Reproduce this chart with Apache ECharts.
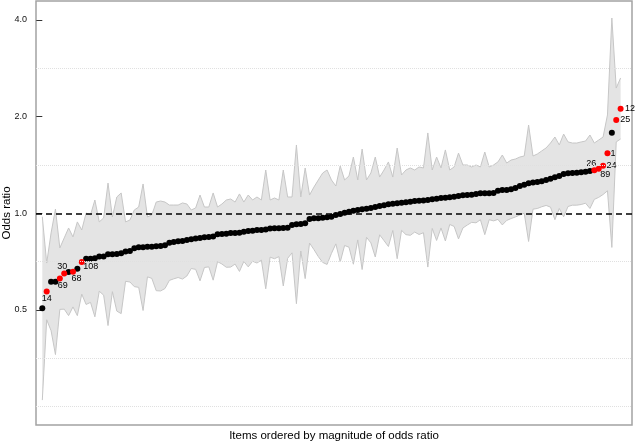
<!DOCTYPE html>
<html>
<head>
<meta charset="utf-8">
<title>Odds ratio by item</title>
<script src="https://cdn.jsdelivr.net/npm/echarts@6/dist/echarts.min.js"></script>
<style>
  html, body { margin: 0; padding: 0; background: #fff; }
  #chart { width: 638px; height: 442px; }
</style>
</head>
<body>
<div id="chart"></div>
<script>
// odds ratio of every item, sorted from smallest to largest
var oddsRatio = [
  0.506, 0.571, 0.612, 0.612, 0.626, 0.649, 0.657, 0.658, 0.672, 0.705,
  0.722, 0.722, 0.724, 0.733, 0.733, 0.745, 0.745, 0.747, 0.751, 0.760,
  0.763, 0.778, 0.784, 0.784, 0.786, 0.787, 0.789, 0.791, 0.795, 0.810,
  0.814, 0.818, 0.820, 0.826, 0.830, 0.834, 0.838, 0.842, 0.844, 0.846,
  0.860, 0.862, 0.864, 0.868, 0.868, 0.870, 0.876, 0.881, 0.883, 0.887,
  0.887, 0.891, 0.896, 0.898, 0.898, 0.900, 0.902, 0.920, 0.924, 0.926,
  0.931, 0.960, 0.965, 0.965, 0.969, 0.972, 0.976, 0.988, 0.995, 1.004,
  1.012, 1.019, 1.024, 1.029, 1.034, 1.039, 1.046, 1.054, 1.059, 1.067,
  1.071, 1.074, 1.079, 1.082, 1.087, 1.092, 1.094, 1.097, 1.100, 1.106,
  1.110, 1.116, 1.118, 1.122, 1.126, 1.132, 1.138, 1.140, 1.143, 1.149,
  1.154, 1.154, 1.154, 1.157, 1.176, 1.182, 1.182, 1.188, 1.199, 1.216,
  1.228, 1.240, 1.246, 1.252, 1.258, 1.270, 1.281, 1.294, 1.307, 1.326,
  1.332, 1.335, 1.338, 1.342, 1.348, 1.354, 1.361, 1.377, 1.406, 1.538,
  1.782, 1.952, 2.117
];
// lower and upper confidence limits, same order
var ciLower = [
  0.262, 0.466, 0.431, 0.363, 0.502, 0.503, 0.480, 0.511, 0.480, 0.560,
  0.520, 0.528, 0.476, 0.572, 0.556, 0.447, 0.570, 0.496, 0.487, 0.614,
  0.611, 0.591, 0.588, 0.498, 0.634, 0.627, 0.574, 0.573, 0.583, 0.618,
  0.625, 0.631, 0.624, 0.638, 0.673, 0.669, 0.616, 0.678, 0.681, 0.619,
  0.707, 0.695, 0.679, 0.680, 0.695, 0.659, 0.708, 0.681, 0.709, 0.700,
  0.715, 0.582, 0.730, 0.722, 0.733, 0.594, 0.724, 0.753, 0.523, 0.763,
  0.626, 0.808, 0.771, 0.733, 0.703, 0.693, 0.750, 0.803, 0.705, 0.794,
  0.784, 0.694, 0.826, 0.668, 0.842, 0.809, 0.731, 0.857, 0.822, 0.788,
  0.884, 0.722, 0.885, 0.858, 0.854, 0.874, 0.859, 0.870, 0.680, 0.897,
  0.823, 0.900, 0.820, 0.923, 0.910, 0.832, 0.900, 0.919, 0.937, 0.934,
  0.955, 0.858, 0.955, 0.947, 0.957, 0.920, 0.950, 0.963, 0.974, 0.988,
  1.000, 0.817, 1.030, 1.035, 1.048, 1.058, 1.045, 0.955, 1.035, 0.975,
  1.050, 1.060, 1.060, 1.065, 1.075, 1.035, 1.105, 1.121, 1.144, 1.175,
  0.783, 1.668, 1.704
];
var ciUpper = [
  0.976, 0.700, 0.868, 1.031, 0.780, 0.838, 0.900, 0.844, 0.940, 0.887,
  1.002, 0.988, 1.100, 0.940, 0.967, 1.242, 0.974, 1.124, 1.157, 0.940,
  0.953, 1.024, 1.046, 1.234, 0.974, 0.988, 1.084, 1.092, 1.084, 1.061,
  1.061, 1.061, 1.077, 1.069, 1.024, 1.039, 1.140, 1.046, 1.046, 1.157,
  1.046, 1.069, 1.100, 1.108, 1.084, 1.149, 1.084, 1.140, 1.100, 1.124,
  1.100, 1.364, 1.100, 1.116, 1.100, 1.364, 1.124, 1.124, 1.632, 1.124,
  1.384, 1.140, 1.207, 1.270, 1.335, 1.364, 1.270, 1.216, 1.404, 1.270,
  1.307, 1.497, 1.270, 1.585, 1.270, 1.335, 1.497, 1.297, 1.364, 1.445,
  1.297, 1.597, 1.316, 1.364, 1.384, 1.364, 1.394, 1.384, 1.779, 1.364,
  1.497, 1.384, 1.575, 1.364, 1.394, 1.540, 1.414, 1.414, 1.394, 1.414,
  1.394, 1.552, 1.394, 1.414, 1.445, 1.519, 1.434, 1.465, 1.476, 1.497,
  1.508, 1.883, 1.508, 1.530, 1.564, 1.598, 1.655, 1.728, 1.632, 1.765,
  1.668, 1.655, 1.655, 1.668, 1.679, 1.753, 1.655, 1.691, 1.728, 2.024,
  4.056, 2.455, 2.639
];
// items shown in red: position in the sorted order, and item id
var flaggedRank = [1, 4, 5, 7, 9, 126, 127, 128, 129, 131, 132];
var flaggedId = ['14', '69', '30', '68', '108', '26', '89', '24', '1', '25', '12'];

var yTicks = [0.5, 1, 2, 4];
var yTickLabels = ['0.5', '1.0', '2.0', '4.0'];
var minorGrid = [0.25, 0.354, 0.707, 1.414, 2.828];
var refLine = 1;

function log2(v) { return Math.log(v) / Math.LN2; }

// where each id label sits relative to its point, px
var labelNudge = {
  '14': [0, 7.5], '69': [3, 6.5], '30': [-2, -7], '68': [3.5, 6.5], '108': [9, 4.5],
  '26': [-3, -6.5], '89': [6.5, 6], '24': [8.5, 0], '1': [5.5, 0.5], '25': [9, 0], '12': [9.5, 0]
};

var isFlagged = {};
flaggedRank.forEach(function (r) { isFlagged[r] = true; });

var blackPts = [], redPts = [], bandRows = [];
for (var i = 0; i < oddsRatio.length; i++) {
  bandRows.push([i, log2(ciLower[i]), log2(ciUpper[i])]);
  if (!isFlagged[i]) blackPts.push([i, log2(oddsRatio[i])]);
}
flaggedRank.forEach(function (r, k) {
  var id = flaggedId[k];
  redPts.push({
    value: [r, log2(oddsRatio[r])],
    label: { show: true, position: 'inside', offset: labelNudge[id], formatter: id }
  });
});

var yTickPos = yTicks.map(log2);

// the grey confidence band, drawn once as one polygon
function renderBand(params, api) {
  if (params.dataIndex !== 0) return null;
  var top = [], bottom = [];
  bandRows.forEach(function (row) {
    top.push(api.coord([row[0], row[2]]));
    bottom.push(api.coord([row[0], row[1]]));
  });
  var outline = { stroke: '#c6c6c6', lineWidth: 1, fill: null };
  return {
    type: 'group',
    children: [
      { type: 'polygon', shape: { points: top.concat(bottom.slice().reverse()) }, style: { fill: '#e4e4e4' } },
      { type: 'polyline', shape: { points: top }, style: outline },
      { type: 'polyline', shape: { points: bottom }, style: outline }
    ]
  };
}

var myChart = echarts.init(document.getElementById('chart'));
var option = {
  animation: false,
  textStyle: { fontFamily: 'Liberation Sans, Arial, sans-serif' },
  grid: {
    left: 36, right: 6, top: 1, bottom: 17,
    show: true, borderColor: '#a3a3a3', borderWidth: 1.5, backgroundColor: 'transparent',
    containLabel: false, outerBoundsMode: 'none'
  },
  xAxis: {
    type: 'value', min: -1.44, max: 134.6,
    name: 'Items ordered by magnitude of odds ratio',
    nameLocation: 'middle', nameGap: 5, nameMoveOverlap: false,
    nameTextStyle: { fontSize: 11.5, color: '#000', verticalAlign: 'top' },
    axisLine: { show: false }, axisTick: { show: false },
    axisLabel: { show: false }, splitLine: { show: false }
  },
  yAxis: {
    type: 'value', min: -2.19, max: 2.196,
    name: 'Odds ratio', nameLocation: 'middle', nameGap: 23, nameMoveOverlap: false,
    nameTextStyle: { fontSize: 11.5, color: '#000' },
    axisLine: { show: false },
    axisTick: { show: true, length: 6, customValues: yTickPos, lineStyle: { color: '#333', width: 1 } },
    axisLabel: {
      customValues: yTickPos, margin: 9, fontSize: 9, color: '#111',
      formatter: function (v) {
        for (var k = 0; k < yTickPos.length; k++) {
          if (Math.abs(yTickPos[k] - v) < 1e-6) return yTickLabels[k];
        }
        return '';
      }
    },
    splitLine: { show: false }
  },
  series: [
    {
      // faint minor grid
      type: 'line', data: [], z: 1, silent: true,
      markLine: {
        silent: true, symbol: ['none', 'none'], label: { show: false },
        lineStyle: { color: '#e0e0e0', type: 'dotted', width: 1 },
        data: minorGrid.map(function (v) { return { yAxis: log2(v) }; })
      }
    },
    {
      type: 'custom', data: bandRows, renderItem: renderBand,
      encode: { x: 0, y: [1, 2] }, z: 1.5, silent: true
    },
    {
      type: 'line', data: [], z: 2.5, silent: true,
      markLine: {
        silent: true, symbol: ['none', 'none'], label: { show: false },
        lineStyle: { color: '#000', type: [6, 4], width: 1.5 },
        data: [{ yAxis: log2(refLine) }]
      }
    },
    {
      type: 'scatter', data: blackPts, symbolSize: 6, z: 3,
      itemStyle: { color: '#000', opacity: 1 }, emphasis: { disabled: true }
    },
    {
      type: 'scatter', data: redPts, symbolSize: 6, z: 4,
      itemStyle: { color: '#ff0000', opacity: 1 }, emphasis: { disabled: true },
      label: { fontSize: 9, color: '#000' }
    }
  ]
};
myChart.setOption(option);
</script>
</body>
</html>
